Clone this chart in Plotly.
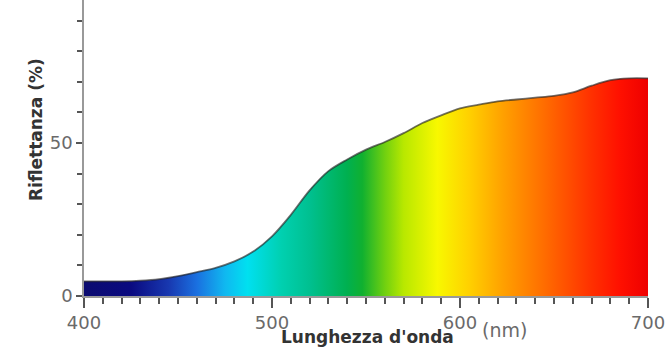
import plotly.graph_objects as go

# ---- data ----
wavelength_nm = [400, 410, 420, 430, 440, 450, 460, 470, 480, 490,
                 500, 510, 520, 530, 540, 550, 560, 570, 580, 590,
                 600, 610, 620, 630, 640, 650, 660, 670, 680, 690, 700]
reflectance_pct = [4.8, 4.8, 4.8, 5.0, 5.5, 6.5, 7.8, 9.2, 11.3, 14.5,
                   19.5, 26.5, 34.5, 40.8, 44.6, 47.8, 50.3, 53.2, 56.5, 59.0,
                   61.3, 62.5, 63.6, 64.2, 64.8, 65.4, 66.5, 68.7, 70.5, 71.1, 71.1]
x_tick_vals = [400, 500, 600, 700]
y_tick_vals = [0, 50]

# ---- spectrum gradient (wavelength -> colour) ----
spec_nm = [400, 425, 445, 460, 475, 487, 505, 520, 540, 548,
           560, 570, 588, 605, 623, 650, 670, 685, 700]
spec_col = ["#0b0b70", "#0a0a80", "#1838b0", "#1a70e0", "#10b8f0", "#00e0f0",
            "#00d0b0", "#00c090", "#00b050", "#10b030", "#70d010", "#b8e800",
            "#f8f800", "#ffd000", "#ffa000", "#ff6000", "#ff3000", "#ff1000",
            "#ee0000"]
lo, hi = wavelength_nm[0], wavelength_nm[-1]
colorscale = [[(w - lo) / (hi - lo), c] for w, c in zip(spec_nm, spec_col)]

fig = go.Figure()
fig.add_trace(go.Scatter(
    x=wavelength_nm, y=reflectance_pct,
    mode="lines",
    line=dict(color="rgba(35,35,35,0.65)", width=1.8, shape="spline", smoothing=0.9),
    fill="tozeroy",
    fillgradient=dict(type="horizontal", colorscale=colorscale, start=lo, stop=hi),
    hoverinfo="skip",
    showlegend=False,
))

tick_font = dict(family="DejaVu Sans", size=18, color="#6a6a6a")
title_font = dict(family="DejaVu Sans", size=17, color="#333333", weight="bold")

fig.update_layout(
    template="simple_white",
    width=668, height=350,
    margin=dict(l=84, r=20, t=0, b=54),
    paper_bgcolor="white", plot_bgcolor="white",
    xaxis=dict(
        range=[400, 700], tickmode="linear",
        tick0=x_tick_vals[0], dtick=x_tick_vals[1] - x_tick_vals[0],
        ticks="outside", ticklen=10, tickwidth=2, tickcolor="#555",
        showline=True, linecolor="#999", linewidth=1.5, mirror=False,
        showgrid=False, zeroline=False,
        minor=dict(dtick=10, ticks="outside", ticklen=6,
                   tickwidth=2, tickcolor="#555", showgrid=False),
        tickfont=tick_font,
    ),
    yaxis=dict(
        range=[0, 96.7], tickmode="linear",
        tick0=y_tick_vals[0], dtick=y_tick_vals[1] - y_tick_vals[0],
        ticks="outside", ticklen=6, tickwidth=2, tickcolor="#555",
        showline=True, linecolor="#999", linewidth=1.5, mirror=False,
        showgrid=False, zeroline=False,
        minor=dict(dtick=10, ticks="outside", ticklen=5,
                   tickwidth=2, tickcolor="#555", showgrid=False),
        tickfont=tick_font,
    ),
    annotations=[
        dict(text="Lunghezza d'onda", xref="paper", yref="paper",
             x=0.502, y=-0.14, xanchor="center", yanchor="middle",
             showarrow=False, font=title_font),
        dict(text="(nm)", xref="paper", yref="paper",
             x=0.745, y=-0.115, xanchor="center", yanchor="middle",
             showarrow=False, font=dict(family="DejaVu Sans", size=19, color="#6a6a6a")),
        dict(text="Riflettanza (%)", xref="paper", yref="paper",
             x=-0.085, y=0.561, xanchor="center", yanchor="middle",
             textangle=-90, showarrow=False, font=title_font),
    ],
)

fig.write_html("out.html")
